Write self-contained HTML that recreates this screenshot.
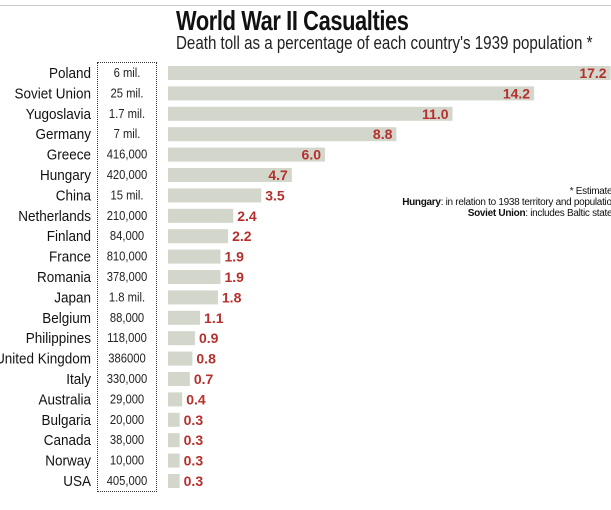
<!DOCTYPE html>
<html><head><meta charset="utf-8"><style>
body{margin:0;width:611px;height:510px;background:#fff;overflow:hidden;position:relative;font-family:"Liberation Sans",sans-serif;}
#topline{position:absolute;left:0;top:5px;width:611px;height:1px;background:#ccc}
#title{position:absolute;left:176px;top:5px;font-size:28px;font-weight:bold;color:#111;letter-spacing:-0.5px;transform:scaleX(0.78);transform-origin:left;white-space:nowrap}
#sub{position:absolute;left:176px;top:33px;font-size:18px;color:#222;transform:scaleX(0.84);transform-origin:left;white-space:nowrap}
#box{position:absolute;left:97px;top:62px;width:60px;height:430px;border:1px dotted #333;box-sizing:border-box}
.notes{position:absolute;right:-6px;top:186px;font-size:10px;color:#111;text-align:right;line-height:11px;letter-spacing:-0.3px;white-space:nowrap}
</style></head><body>
<div id="topline"></div>
<div id="title">World War II Casualties</div>
<div id="sub">Death toll as a percentage of each country's 1939 population *</div>
<div id="box"></div>
<div class="notes">* Estimates<br><b>Hungary</b>: in relation to 1938 territory and population<br><b>Soviet Union</b>: includes Baltic states</div>
<svg id="chart" width="611" height="510" style="position:absolute;left:0;top:0"></svg>
<script>
const countries=["Poland","Soviet Union","Yugoslavia","Germany","Greece","Hungary","China","Netherlands","Finland","France","Romania","Japan","Belgium","Philippines","United Kingdom","Italy","Australia","Bulgaria","Canada","Norway","USA"];
const deaths=["6 mil.","25 mil.","1.7 mil.","7 mil.","416,000","420,000","15 mil.","210,000","84,000","810,000","378,000","1.8 mil.","88,000","118,000","386000","330,000","29,000","20,000","38,000","10,000","405,000"];
const percents=[17.2,14.2,11.0,8.8,6.0,4.7,3.5,2.4,2.2,1.9,1.9,1.8,1.1,0.9,0.8,0.7,0.4,0.3,0.3,0.3,0.3];
const NS="http://www.w3.org/2000/svg";
const svg=document.getElementById("chart");
const x0=168,k=25.5,off=4;
function xs(v){return x0+off+v*k;}
function ys(i){return 73+i*20.4;}
function mk(t,a){const e=document.createElementNS(NS,t);for(const p in a)e.setAttribute(p,a[p]);svg.appendChild(e);return e;}
percents.forEach((v,i)=>{
  const y=ys(i);
  const bar=mk("rect",{x:x0,y:y-7,width:xs(v)-x0,height:14,fill:"#d2d6cb"});
  
  
  const lab=mk("text",{transform:"translate(91,"+(y+5)+") scale(0.9,1)","text-anchor":"end","font-size":15,fill:"#111"});
  lab.textContent=countries[i];
  
  
  const d=mk("text",{transform:"translate(127,"+(y+4)+") scale(0.9,1)","text-anchor":"middle","font-size":12.5,fill:"#222"});
  d.textContent=deaths[i];
  
  
  const inside=v>=4;
  const vl=mk("text",{x:inside?xs(v)-4:xs(v)+4,y:y+5,"text-anchor":inside?"end":"start","font-size":14,"font-weight":"bold",fill:"#b5302d"});
  vl.textContent=v.toFixed(1);
  
  
});
</script>
</body></html>
